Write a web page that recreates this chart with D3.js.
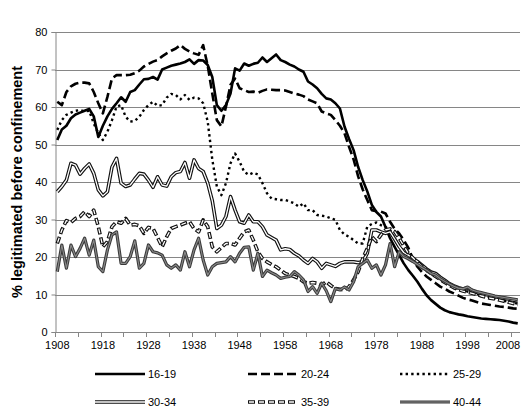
<!DOCTYPE html>
<html>
<head>
<meta charset="utf-8">
<script src="https://cdn.jsdelivr.net/npm/d3@7"></script>
<style>
  body { margin: 0; background: #fff; }
  svg { display: block; font-family: "Liberation Sans", Arial, sans-serif; }
</style>
</head>
<body>
<div id="chart"></div>
<script>
// categories: one per year
const years = d3.range(1908, 2010);
const xLabels = ['1908', '1918', '1928', '1938', '1948', '1958', '1968', '1978', '1988', '1998', '2008'];
const yTicks = [0, 10, 20, 30, 40, 50, 60, 70, 80];

// series values (% legitimated before confinement), 1908..2009
const s16_19 = [51.2, 54, 55, 57, 58, 58.5, 59, 59.5, 57.5, 52, 55, 57.5, 59.5, 61, 62.6, 61.4, 64, 64.5, 66, 67.4,
  67.5, 68, 67.3, 70, 70.5, 71, 71.3, 71.6, 72, 72.7, 71.5, 72.5, 72.4, 71.2, 68, 60.5, 59, 60.5, 63.6, 70.3,
  69.7, 71.6, 71, 71.5, 71.8, 73.2, 72, 73, 74, 72.5, 72, 71.3, 70.8, 70, 69.4, 66.8, 66, 65, 63.5, 62.3,
  62, 61, 59.6, 54.8, 51.5, 48.5, 44, 40.5, 37.5, 33.9, 32, 30.8, 28, 25, 22.7, 20.5, 18.3, 16.5, 15, 13.4,
  11.5, 9.8, 8.5, 7.5, 6.5, 5.8, 5.3, 5, 4.7, 4.5, 4.2, 4, 3.8, 3.6, 3.5, 3.4, 3.3, 3.2, 3, 2.8,
  2.5, 2.3];
const s20_24 = [61.4, 60.5, 64, 65.5, 66.2, 66.5, 66.5, 66.3, 64, 61, 58.3, 62.7, 67.6, 68.5, 68.5, 68.5, 68.6, 69, 69.7, 70.8,
  71.5, 72.1, 72.5, 73.5, 74.3, 75, 75.6, 76.5, 75.5, 74.8, 74.3, 73.9, 76.5, 71, 63.6, 56.5, 54.8, 60.1, 65.9, 67.6,
  65, 64.5, 64, 64.1, 63.8, 64.3, 64.7, 64.6, 64.5, 64.5, 64.4, 64, 63.6, 63.3, 62.9, 62, 61.5, 61, 58.8, 58.3,
  57.9, 56.5, 55, 53, 49.4, 46, 41.5, 38, 35.2, 32.5, 32.2, 32.1, 31.6, 29.4, 27.5, 26.3, 24.5, 22.5, 19.5, 17.4,
  16, 14.8, 13.9, 13, 12.1, 11.5, 10.8, 10.3, 9.7, 9.1, 8.7, 8.4, 8, 7.6, 7.4, 7.2, 7, 6.8, 6.7, 6.5,
  6.3, 6.2];
const s25_29 = [53.9, 56.5, 57.9, 58.5, 59, 59.2, 58.8, 59, 55.6, 53, 51.2, 53.4, 56.5, 60.1, 60.5, 57.4, 56.1, 56.3, 57.4, 59.2,
  60.5, 61.4, 60.3, 60.5, 62.5, 63.5, 63.2, 62, 63.2, 61.9, 62.5, 62.3, 61, 56.1, 46, 38.8, 36.5, 39.7, 45, 47.6,
  45.4, 42.7, 41.9, 42.5, 42, 39.7, 37, 35.6, 35.4, 35.2, 35.2, 34.8, 34.3, 33.4, 34.3, 32.5, 32.5, 31.2, 31, 30.8,
  30.3, 29.9, 27.2, 26, 25.4, 24.5, 23.6, 23.6, 28.1, 28.8, 29.2, 28.5, 28, 27.2, 25, 23, 21.5, 20.2, 19.3, 18.3,
  17.2, 16.3, 15.5, 14.8, 14, 13.3, 12.6, 12, 11.4, 11.1, 10.8, 10.5, 10.2, 9.8, 9.5, 9.2, 8.9, 8.6, 8.3, 8,
  7.8, 7.6];
const s30_34 = [37.4, 38.8, 40.5, 45, 44.5, 42.1, 43.6, 44.8, 42.3, 37.9, 36.3, 37.4, 44, 46.3, 39.7, 38.8, 39.2, 40.8, 42.3, 42.1,
  40.5, 38.6, 41.4, 39.2, 38.9, 41.4, 42.5, 42.8, 45.2, 41, 45.9, 43.6, 42.8, 39.7, 35, 27.6, 28.5, 30.8, 36.1, 32.5,
  29.4, 29, 31.2, 29.4, 29.4, 28.1, 25.9, 25.2, 24.5, 21.9, 22.2, 22, 21, 20.3, 19.2, 18.3, 19.6, 18.7, 17, 18.3,
  17.9, 17.5, 18.3, 18.7, 18.7, 18.7, 18.5, 18.7, 21, 27.2, 27.2, 26.7, 26.3, 26.7, 24.8, 22.8, 21.2, 20.5, 19.6, 18.8,
  17.8, 16.8, 16, 15.6, 14.6, 13.8, 12.9, 12.3, 11.8, 11.5, 11.8, 11, 10.6, 10.3, 10, 9.7, 9.4, 9.2, 9, 8.8,
  8.5, 8.3];
const s35_39 = [23.6, 27.2, 29.7, 29.2, 30.3, 30.8, 32.1, 30.8, 32.5, 28.1, 22.7, 24.1, 28.1, 29.4, 29, 30.3, 28.5, 28.7, 28.3, 26.3,
  27.9, 27.6, 25.2, 22.7, 25.4, 27.6, 28.1, 28.5, 29, 29.4, 27.6, 26.7, 29.9, 28.1, 22.7, 21.4, 22.5, 23.6, 23.6, 23.2,
  25, 26.7, 27.2, 24.5, 21.4, 19.6, 18.7, 18, 17.4, 16.5, 15.6, 15.2, 14.8, 14.3, 13.4, 13, 13.2, 13, 12.5, 13.4,
  12.4, 11.6, 11.4, 11.2, 12.1, 13.9, 16.1, 19.6, 22.3, 25.4, 24.1, 25.9, 27.2, 27.5, 26.8, 25, 23, 21, 19.8, 18.6,
  17.5, 16.5, 15.6, 14.8, 14, 13.2, 12.5, 11.8, 11.3, 10.9, 10.6, 10.3, 10, 9.6, 9.3, 9, 8.8, 8.5, 8.2, 7.9,
  7.6, 7.3];
const s40_44 = [16.1, 23.2, 17, 23.2, 20.1, 22.3, 25, 20.5, 24.5, 17.4, 16.1, 21.9, 25.9, 26.7, 18.3, 18.3, 20.1, 24.3, 17, 18.3,
  23.2, 21.4, 21.1, 20.5, 17.9, 17, 17.9, 16.5, 21.4, 17.4, 21.9, 25, 19.2, 15.2, 17.4, 18.3, 18.5, 18.7, 20.1, 18.7,
  21, 22.6, 22.7, 16.5, 21, 14.8, 16.5, 15.8, 15.2, 14.3, 14.6, 14.8, 16.1, 15.2, 13.9, 10.8, 12.1, 10.3, 13, 11,
  8.1, 11.6, 11.2, 12, 11.2, 13.4, 17.4, 18.3, 19.2, 17, 17.9, 15.2, 17.9, 23.6, 17.4, 21.4, 20.1, 19.5, 18.8, 18,
  17.2, 16.5, 15.6, 15.2, 14.2, 13.5, 12.8, 12.2, 11.7, 11.5, 12, 11.2, 10.8, 10.5, 10.2, 9.9, 9.6, 9.4, 9.2, 9,
  8.8, 8.6];

const seriesNames = ['16-19', '20-24', '25-29', '30-34', '35-39', '40-44'];
const seriesValues = [s16_19, s20_24, s25_29, s30_34, s35_39, s40_44];

// stroke layers per series (drawn bottom to top)
const styles = {
  '16-19': [{ stroke: '#000', width: 2.6 }],
  '20-24': [{ stroke: '#000', width: 2.6, dash: '9,4' }],
  '25-29': [{ stroke: '#000', width: 2.4, dash: '2.4,3.2' }],
  '30-34': [{ stroke: '#111', width: 3.6 }, { stroke: '#fff', width: 1.3 }],
  '35-39': [{ stroke: '#111', width: 3.6, dash: '7,3' }, { stroke: '#fff', width: 1.3, dash: '5,5', offset: -1 }],
  '40-44': [{ stroke: '#3a3a3a', width: 3.2 }, { stroke: '#8a8a8a', width: 1.1 }]
};

const width = 522, height = 416;
const margin = { left: 55, right: 2, top: 32, bottom: 84 };

const svg = d3.select('#chart').append('svg')
  .attr('width', width)
  .attr('height', height);

const x = d3.scaleBand()
  .domain(years)
  .range([margin.left, width - margin.right])
  .paddingInner(0).paddingOuter(0);

const y = d3.scaleLinear()
  .domain([0, 80])
  .range([height - margin.bottom, margin.top]);

const xc = yr => x(yr) + x.bandwidth() / 2;
const axisColor = '#868686';

// gridlines
svg.append('g')
  .selectAll('line')
  .data(yTicks.filter(d => d > 0))
  .join('line')
    .attr('x1', margin.left).attr('x2', width - margin.right)
    .attr('y1', d => Math.round(y(d)) + 0.5).attr('y2', d => Math.round(y(d)) + 0.5)
    .attr('stroke', axisColor).attr('stroke-width', 1);

// y axis
const yAxis = svg.append('g')
  .attr('transform', `translate(${margin.left + 0.5},0)`)
  .call(d3.axisLeft(y).tickValues(yTicks).tickSize(4).tickPadding(4));
yAxis.select('.domain').attr('stroke', axisColor);
yAxis.selectAll('.tick line').attr('stroke', axisColor);
yAxis.selectAll('text').attr('font-size', 11).attr('fill', '#000')
  .attr('font-family', '"Liberation Sans", Arial, sans-serif');

// x axis: ticks between categories every 5 years, labels every 10
const x0 = y(0);
svg.append('line')
  .attr('x1', margin.left).attr('x2', width - margin.right)
  .attr('y1', Math.round(x0) + 0.5).attr('y2', Math.round(x0) + 0.5)
  .attr('stroke', axisColor);
svg.append('g')
  .selectAll('line')
  .data(years.filter((d, i) => i % 5 === 0))
  .join('line')
    .attr('x1', d => Math.round(x(d)) + 0.5).attr('x2', d => Math.round(x(d)) + 0.5)
    .attr('y1', Math.round(x0)).attr('y2', Math.round(x0) + 5)
    .attr('stroke', axisColor);
svg.append('g')
  .selectAll('text')
  .data(xLabels)
  .join('text')
    .attr('x', d => Math.min(xc(+d), width - 14))
    .attr('y', x0 + 17)
    .attr('text-anchor', 'middle')
    .attr('font-size', 11)
    .text(d => d);

// y axis title
svg.append('text')
  .attr('transform', `translate(22,${(y(0) + y(80)) / 2}) rotate(-90)`)
  .attr('text-anchor', 'middle')
  .attr('font-size', 14.5)
  .attr('font-weight', 'bold')
  .text('% legitimated before confinement');

// lines
const line = d3.line()
  .x((d, i) => xc(years[i]))
  .y(d => y(d));

seriesNames.forEach((name, si) => {
  styles[name].forEach(st => {
    svg.append('path')
      .datum(seriesValues[si])
      .attr('d', line)
      .attr('fill', 'none')
      .attr('stroke', st.stroke)
      .attr('stroke-width', st.width)
      .attr('stroke-linejoin', 'round')
      .attr('stroke-dasharray', st.dash || null)
      .attr('stroke-dashoffset', st.offset || null);
  });
});

// legend
const legendCols = [95, 248, 400];
const legendRows = [374, 402];
const legend = svg.append('g')
  .selectAll('g')
  .data(seriesNames)
  .join('g')
    .attr('transform', (d, i) => `translate(${legendCols[i % 3]},${legendRows[Math.floor(i / 3)]})`);

legend.each(function(name) {
  const g = d3.select(this);
  styles[name].forEach(st => {
    g.append('line')
      .attr('x1', 0).attr('x2', 50)
      .attr('stroke', st.stroke)
      .attr('stroke-width', st.width)
      .attr('stroke-dasharray', st.dash || null)
      .attr('stroke-dashoffset', st.offset || null);
  });
  g.append('text')
    .attr('x', 53)
    .attr('dy', '0.35em')
    .attr('font-size', 11)
    .text(name);
});
</script>
</body>
</html>
